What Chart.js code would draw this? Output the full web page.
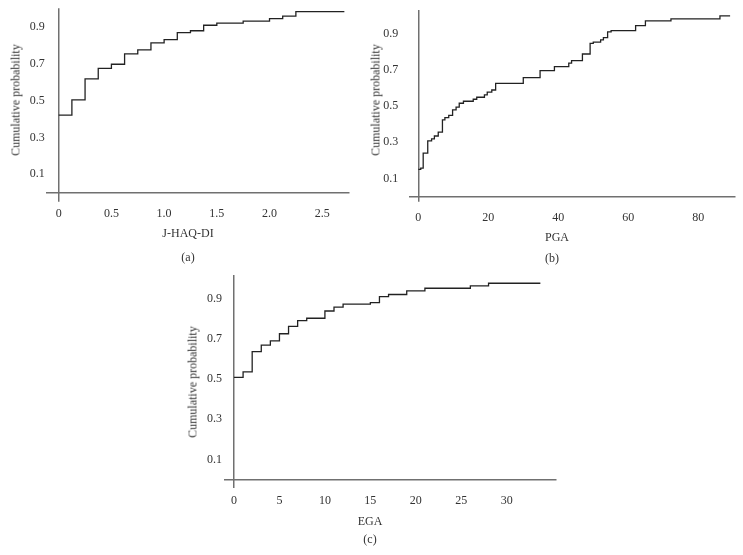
<!DOCTYPE html>
<html>
<head>
<meta charset="utf-8">
<title>Cumulative probability plots</title>
<script src="https://cdn.jsdelivr.net/npm/chart.js@4.4.1/dist/chart.umd.min.js"></script>
<style>
    html, body { margin: 0; padding: 0; background: #fff; }
    body { width: 743px; height: 555px; position: relative; overflow: hidden; font-family: 'Liberation Serif', 'Times New Roman', serif; color: #333; }
    .panel { position: absolute; }
    .panel canvas { position: absolute; left: 0; top: 0; }
    .lbl { position: absolute; font-size: 12px; white-space: nowrap; transform: translate(-50%, -50%); }
    .lbl.rot { transform: translate(-50%, -50%) rotate(-90deg); }
</style>
</head>
<body>

<div class="panel" style="left:0;top:0;width:370px;height:270px">
    <canvas id="chartA" width="370" height="270"></canvas>
    <div class="lbl rot" style="left:16px;top:100px">Cumulative probability</div>
    <div class="lbl" style="left:188px;top:233px">J-HAQ-DI</div>
    <div class="lbl" style="left:188px;top:257px">(a)</div>
</div>

<div class="panel" style="left:370px;top:0;width:373px;height:270px">
    <canvas id="chartB" width="373" height="270"></canvas>
    <div class="lbl rot" style="left:6px;top:100px">Cumulative probability</div>
    <div class="lbl" style="left:187px;top:237px">PGA</div>
    <div class="lbl" style="left:182px;top:258px">(b)</div>
</div>

<div class="panel" style="left:180px;top:270px;width:380px;height:285px">
    <canvas id="chartC" width="380" height="285"></canvas>
    <div class="lbl rot" style="left:13px;top:112px">Cumulative probability</div>
    <div class="lbl" style="left:190px;top:251px">EGA</div>
    <div class="lbl" style="left:190px;top:269px">(c)</div>
</div>

<script>
// --- Data ---

// (a) J-HAQ-DI
const haqX = [0, 0.125, 0.25, 0.375, 0.5, 0.625, 0.75, 0.875, 1.0, 1.125, 1.25, 1.375, 1.5, 1.75, 2.0, 2.125, 2.25, 2.71];
const haqP = [0.422, 0.504, 0.618, 0.676, 0.698, 0.754, 0.776, 0.814, 0.832, 0.870, 0.880, 0.910, 0.921, 0.932, 0.946, 0.960, 0.984, 0.984];
const haqTicks = [0, 0.5, 1, 1.5, 2, 2.5];
const haqTickLabels = ['0', '0.5', '1.0', '1.5', '2.0', '2.5'];

// (b) PGA
const pgaX = [0, 0.7, 1.4, 2.7, 3.8, 4.6, 5.7, 6.9, 7.6, 8.7, 9.8, 10.8, 11.7, 12.9, 15.7, 16.7, 18.9, 19.7, 21, 22.1,
              30, 34.8, 38.9, 43, 43.8, 46.9, 49.1, 50, 52.1, 52.9, 54.1, 55.1, 62.1, 64.9, 72.2, 86.2, 89.1];
const pgaP = [0.150, 0.156, 0.239, 0.307, 0.318, 0.334, 0.355, 0.423, 0.435, 0.448, 0.478, 0.493, 0.515, 0.526, 0.537, 0.548, 0.561, 0.576, 0.588, 0.625,
              0.656, 0.695, 0.717, 0.737, 0.750, 0.787, 0.846, 0.852, 0.865, 0.877, 0.909, 0.916, 0.944, 0.970, 0.981, 0.997, 0.997];
const pgaTicks = [0, 20, 40, 60, 80];
const pgaTickLabels = ['0', '20', '40', '60', '80'];

// (c) EGA
const egaX = [0, 1, 2, 3, 4, 5, 6, 7, 8, 10, 11, 12, 15, 16, 17, 19, 21, 26, 28, 33.7];
const egaP = [0.508, 0.535, 0.636, 0.668, 0.689, 0.725, 0.762, 0.790, 0.802, 0.838, 0.857, 0.872, 0.880, 0.909, 0.920, 0.938, 0.951, 0.963, 0.976, 0.976];
const egaTicks = [0, 5, 10, 15, 20, 25, 30];
const egaTickLabels = ['0', '5', '10', '15', '20', '25', '30'];

// shared y axis
const probTicks = [0.1, 0.3, 0.5, 0.7, 0.9];
const probTickLabels = ['0.1', '0.3', '0.5', '0.7', '0.9'];

// Styling
const AXIS_COLOR = '#707070';
const LINE_COLOR = '#222222';
const Y_AXIS_WIDTH = 30;

Chart.defaults.font.family = "'Liberation Serif', 'Times New Roman', serif";
Chart.defaults.font.size = 12;
Chart.defaults.color = '#333333';

document.addEventListener('DOMContentLoaded', function() {
    renderCdfChart('chartA', haqX, haqP, {
        xTicks: haqTicks, xLabels: haqTickLabels,
        xMin: -0.114, xMax: 2.754, yMin: -0.049, yMax: 1.002,
        padding: { left: 46.7 - Y_AXIS_WIDTH, top: 8.3, right: 21, bottom: 68.3 },
        yTickPad: 2
    });
    renderCdfChart('chartB', pgaX, pgaP, {
        xTicks: pgaTicks, xLabels: pgaTickLabels,
        xMin: -2.57, xMax: 90.5, yMin: -0.029, yMax: 1.03,
        padding: { left: 39.3 - Y_AXIS_WIDTH, top: 10, right: 8, bottom: 68.3 },
        yTickPad: 11
    });
    renderCdfChart('chartC', egaX, egaP, {
        xTicks: egaTicks, xLabels: egaTickLabels,
        xMin: -0.99, xMax: 35.42, yMin: -0.042, yMax: 1.017,
        padding: { left: 45 - Y_AXIS_WIDTH, top: 5, right: 4, bottom: 67 },
        yTickPad: 3
    });
});

/**
 * Draw one empirical cumulative distribution as a step line.
 * The x axis sits on y = 0; the y axis line is the x grid line at 0,
 * while its labels stay at the left edge of the plot area.
 */
function renderCdfChart(canvasId, xs, ps, cfg) {
    const ctx = document.getElementById(canvasId);
    if (!ctx) return;

    const points = xs.map((x, i) => ({ x: x, y: ps[i] }));

    // keep the plot area exactly where the padding puts it
    const fixBox = (scale) => {
        scale.paddingTop = 0;
        scale.paddingBottom = 0;
        scale.paddingLeft = 0;
        scale.paddingRight = 0;
        if (scale.axis === 'y') scale.width = Y_AXIS_WIDTH;
    };

    return new Chart(ctx.getContext('2d'), {
        type: 'line',
        data: {
            datasets: [{
                data: points,
                stepped: 'before',
                borderColor: LINE_COLOR,
                borderWidth: 1.3,
                pointRadius: 0,
                fill: false,
                tension: 0
            }]
        },
        options: {
            responsive: false,
            animation: false,
            events: [],
            layout: { padding: cfg.padding },
            plugins: { legend: { display: false }, tooltip: { enabled: false } },
            scales: {
                x: {
                    type: 'linear',
                    position: { y: 0 },
                    min: cfg.xMin,
                    max: cfg.xMax,
                    afterBuildTicks: (scale) => { scale.ticks = cfg.xTicks.map(v => ({ value: v })); },
                    afterFit: fixBox,
                    grid: {
                        drawTicks: false,
                        lineWidth: 1.5,
                        // only the line through x = 0 is shown: it is the y axis
                        color: (c) => (c.tick && c.tick.value === 0) ? AXIS_COLOR : 'rgba(0,0,0,0)'
                    },
                    border: { display: true, color: AXIS_COLOR, width: 1.5 },
                    ticks: {
                        autoSkip: false,
                        maxRotation: 0,
                        padding: 14,
                        callback: (value, index) => cfg.xLabels[index]
                    }
                },
                y: {
                    type: 'linear',
                    position: 'left',
                    min: cfg.yMin,
                    max: cfg.yMax,
                    afterBuildTicks: (scale) => { scale.ticks = probTicks.map(v => ({ value: v })); },
                    afterFit: fixBox,
                    grid: { display: false, drawTicks: false },
                    border: { display: false },
                    ticks: {
                        autoSkip: false,
                        padding: cfg.yTickPad,
                        callback: (value, index) => probTickLabels[index]
                    }
                }
            }
        }
    });
}
</script>
</body>
</html>
